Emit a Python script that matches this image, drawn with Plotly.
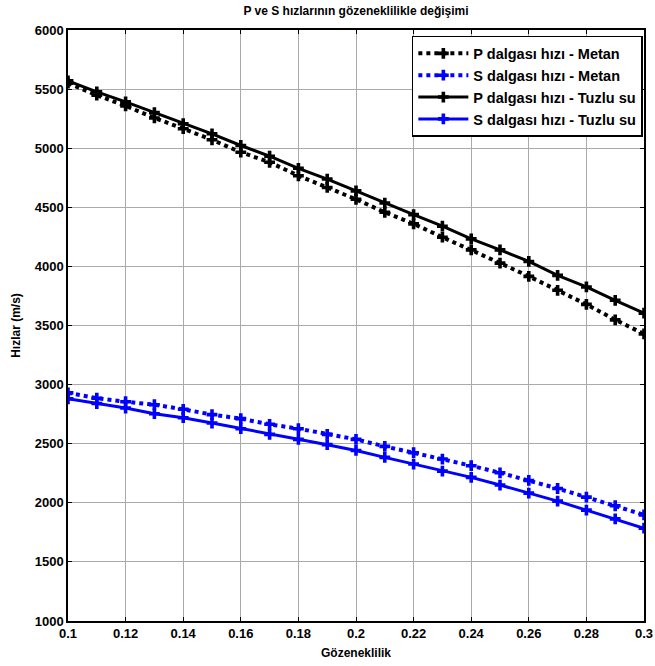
import plotly.graph_objects as go

x = [0.10, 0.11, 0.12, 0.13, 0.14, 0.15, 0.16, 0.17, 0.18, 0.19, 0.20,
     0.21, 0.22, 0.23, 0.24, 0.25, 0.26, 0.27, 0.28, 0.29, 0.30]

p_metan = [5550, 5449, 5358, 5256, 5165, 5071, 4966, 4881, 4767, 4668, 4568,
           4458, 4360, 4247, 4140, 4028, 3916, 3798, 3679, 3548, 3429]
s_metan = [2930, 2885, 2855, 2830, 2791, 2746, 2712, 2664, 2627, 2579, 2537,
           2477, 2424, 2370, 2314, 2254, 2189, 2121, 2048, 1975, 1898]
p_tuzlu = [5570, 5477, 5392, 5301, 5207, 5122, 5023, 4932, 4830, 4739, 4639,
           4536, 4438, 4340, 4233, 4140, 4042, 3924, 3826, 3713, 3605]
s_tuzlu = [2880, 2840, 2802, 2754, 2720, 2675, 2627, 2579, 2537, 2492, 2443,
           2384, 2328, 2268, 2215, 2150, 2082, 2014, 1938, 1864, 1785]

names = ["P dalgası hızı - Metan", "S dalgası hızı - Metan",
         "P dalgası hızı - Tuzlu su", "S dalgası hızı - Tuzlu su"]

FONT = "Liberation Sans, Arial, sans-serif"

fig = go.Figure()
series = [
    (p_metan, names[0], "black", "dot", 4),
    (s_metan, names[1], "blue", "dot", 4),
    (p_tuzlu, names[2], "black", "solid", 3),
    (s_tuzlu, names[3], "blue", "solid", 3),
]
for ys, nm, col, dash, w in series:
    fig.add_trace(go.Scatter(
        x=x, y=ys, name=nm, mode="lines+markers",
        line=dict(color=col, width=w, dash=dash),
        marker=dict(symbol="cross", size=9, color=col,
                    line=dict(width=0)),
    ))

axis_common = dict(
    showline=True, linecolor="black", linewidth=1.5, mirror="allticks",
    ticks="inside", ticklen=4, tickcolor="black",
    showgrid=True, gridcolor="#aaaaaa", gridwidth=1,
    zeroline=False, automargin=False,
    tickfont=dict(family=FONT, size=13, color="black", weight="bold"),
)

fig.update_xaxes(range=[0.1, 0.3], dtick=0.02, tick0=0.1,
                 title=dict(text="<b>Gözeneklilik</b>", standoff=8,
                            font=dict(family=FONT, size=12, color="black")),
                 **axis_common)
fig.update_yaxes(range=[1000, 6000], dtick=500,
                 title=dict(text="<b>Hızlar (m/s)</b>", standoff=12,
                            font=dict(family=FONT, size=12, color="black")),
                 **axis_common)

fig.update_layout(
    width=655, height=666,
    margin=dict(l=68, r=11, t=30, b=45),
    paper_bgcolor="white", plot_bgcolor="white",
    title=dict(text="<b>P ve S hızlarının gözeneklilikle değişimi</b>",
               x=0.5, xref="paper", xanchor="center", y=0.99, yanchor="top",
               font=dict(family=FONT, size=12, color="black")),
    legend=dict(x=0.998, y=0.99, xanchor="right", yanchor="top",
                bgcolor="white", bordercolor="black", borderwidth=1.5,
                font=dict(family=FONT, size=14.5, color="black", weight="bold"),
                itemwidth=50, tracegroupgap=0),
    showlegend=True,
)

fig.write_html("out.html")
